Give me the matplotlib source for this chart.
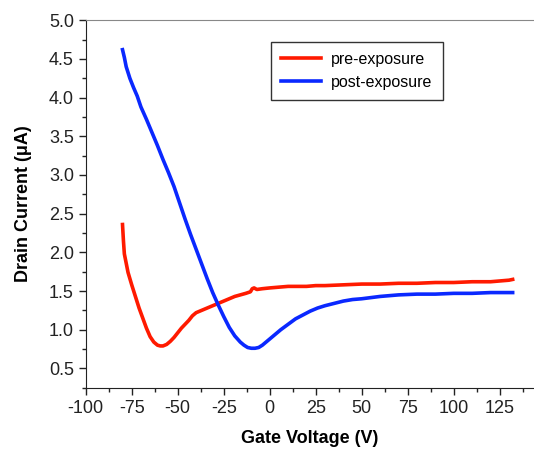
import matplotlib
matplotlib.use("Agg")
import matplotlib.pyplot as plt
from matplotlib.ticker import MultipleLocator

plt.rcParams['font.family'] = ['Liberation Sans', 'DejaVu Sans']

# pre-exposure (red)
pre_v = [-80, -79.5, -79, -77, -75, -73, -71, -69, -67, -65, -63, -61, -59.5, -58, -56, -54, -52, -50, -48, -46, -44, -42,
         -40, -37, -34, -31, -28, -25, -22, -19, -16, -13, -10.5, -9.5, -8.5, -7, -4, 0, 5, 10, 15, 20, 25, 30, 40,
         50, 60, 70, 80, 90, 100, 110, 120, 125, 130, 132]
pre_i = [2.36, 2.15, 1.98, 1.74, 1.58, 1.43, 1.28, 1.15, 1.02, 0.91, 0.84, 0.80, 0.79, 0.79, 0.81, 0.85, 0.90, 0.96, 1.02, 1.07, 1.12, 1.18,
         1.22, 1.25, 1.28, 1.31, 1.34, 1.37, 1.40, 1.43, 1.45, 1.47, 1.49, 1.53, 1.54, 1.52, 1.53, 1.54, 1.55, 1.56, 1.56, 1.56, 1.57, 1.57, 1.58,
         1.59, 1.59, 1.60, 1.60, 1.61, 1.61, 1.62, 1.62, 1.63, 1.64, 1.65]

# post-exposure (blue)
post_v = [-80, -79, -78, -76, -74, -72, -70, -67, -64, -61, -58, -55, -52, -49, -46, -43, -40, -37, -34, -31, -28, -25,
          -22, -19, -16, -14, -12, -10, -8, -6, -4, -2, 0, 3, 6, 10, 14, 18, 22, 26, 30, 35, 40, 45, 50, 60,
          70, 80, 90, 100, 110, 120, 132]
post_i = [4.62, 4.52, 4.40, 4.25, 4.13, 4.02, 3.88, 3.72, 3.55, 3.38, 3.20, 3.03, 2.85, 2.64, 2.43, 2.23, 2.04, 1.85, 1.66, 1.48, 1.32, 1.17,
          1.03, 0.92, 0.84, 0.80, 0.77, 0.76, 0.76, 0.77, 0.80, 0.84, 0.88, 0.94, 1.00, 1.07, 1.14, 1.19, 1.24, 1.28, 1.31, 1.34, 1.37, 1.39, 1.40, 1.43,
          1.45, 1.46, 1.46, 1.47, 1.47, 1.48, 1.48]

fig = plt.figure(figsize=(5.34, 4.49), dpi=100)
ax = fig.add_axes([0.1605, 0.1365, 0.8395, 0.8183])

ax.plot(pre_v, pre_i, color='#ff1a00', lw=2.6, label='pre-exposure', solid_joinstyle='round')
ax.plot(post_v, post_i, color='#0a28ff', lw=2.6, label='post-exposure', solid_joinstyle='round')

ax.set_xlim(-100, 143.6)
ax.set_ylim(0.25, 5.0)
ax.xaxis.set_minor_locator(MultipleLocator(12.5))
ax.yaxis.set_minor_locator(MultipleLocator(0.25))
ax.tick_params(which='major', direction='out', length=5, width=1, labelsize=13, colors='#222222')
ax.tick_params(which='minor', direction='out', length=3, width=1, colors='#222222')
ax.set_yticks([0.5, 1.0, 1.5, 2.0, 2.5, 3.0, 3.5, 4.0, 4.5, 5.0])
ax.set_yticklabels(['0.5', '1.0', '1.5', '2.0', '2.5', '3.0', '3.5', '4.0', '4.5', '5.0'])
ax.set_xticks([-100, -75, -50, -25, 0, 25, 50, 75, 100, 125])
ax.set_xticklabels(['-100', '-75', '-50', '-25', '0', '25', '50', '75', '100', '125'])

ax.spines['right'].set_visible(False)
ax.spines['top'].set_color('#888888')
ax.spines['left'].set_color('#222222')
ax.spines['bottom'].set_color('#222222')

ax.set_xlabel('Gate Voltage (V)', fontsize=13, fontweight='bold', labelpad=10)
ax.set_ylabel('Drain Current (μA)', fontsize=13, fontweight='bold', labelpad=12)

leg = ax.legend(loc='upper left', bbox_to_anchor=(0.413, 0.942), borderaxespad=0,
                fontsize=11.5, handlelength=2.5, handletextpad=0.6, fancybox=False,
                edgecolor='#333333', framealpha=1, borderpad=0.65, labelspacing=0.5)
leg.get_frame().set_linewidth(1.0)

fig.savefig('out.png', dpi=100)
